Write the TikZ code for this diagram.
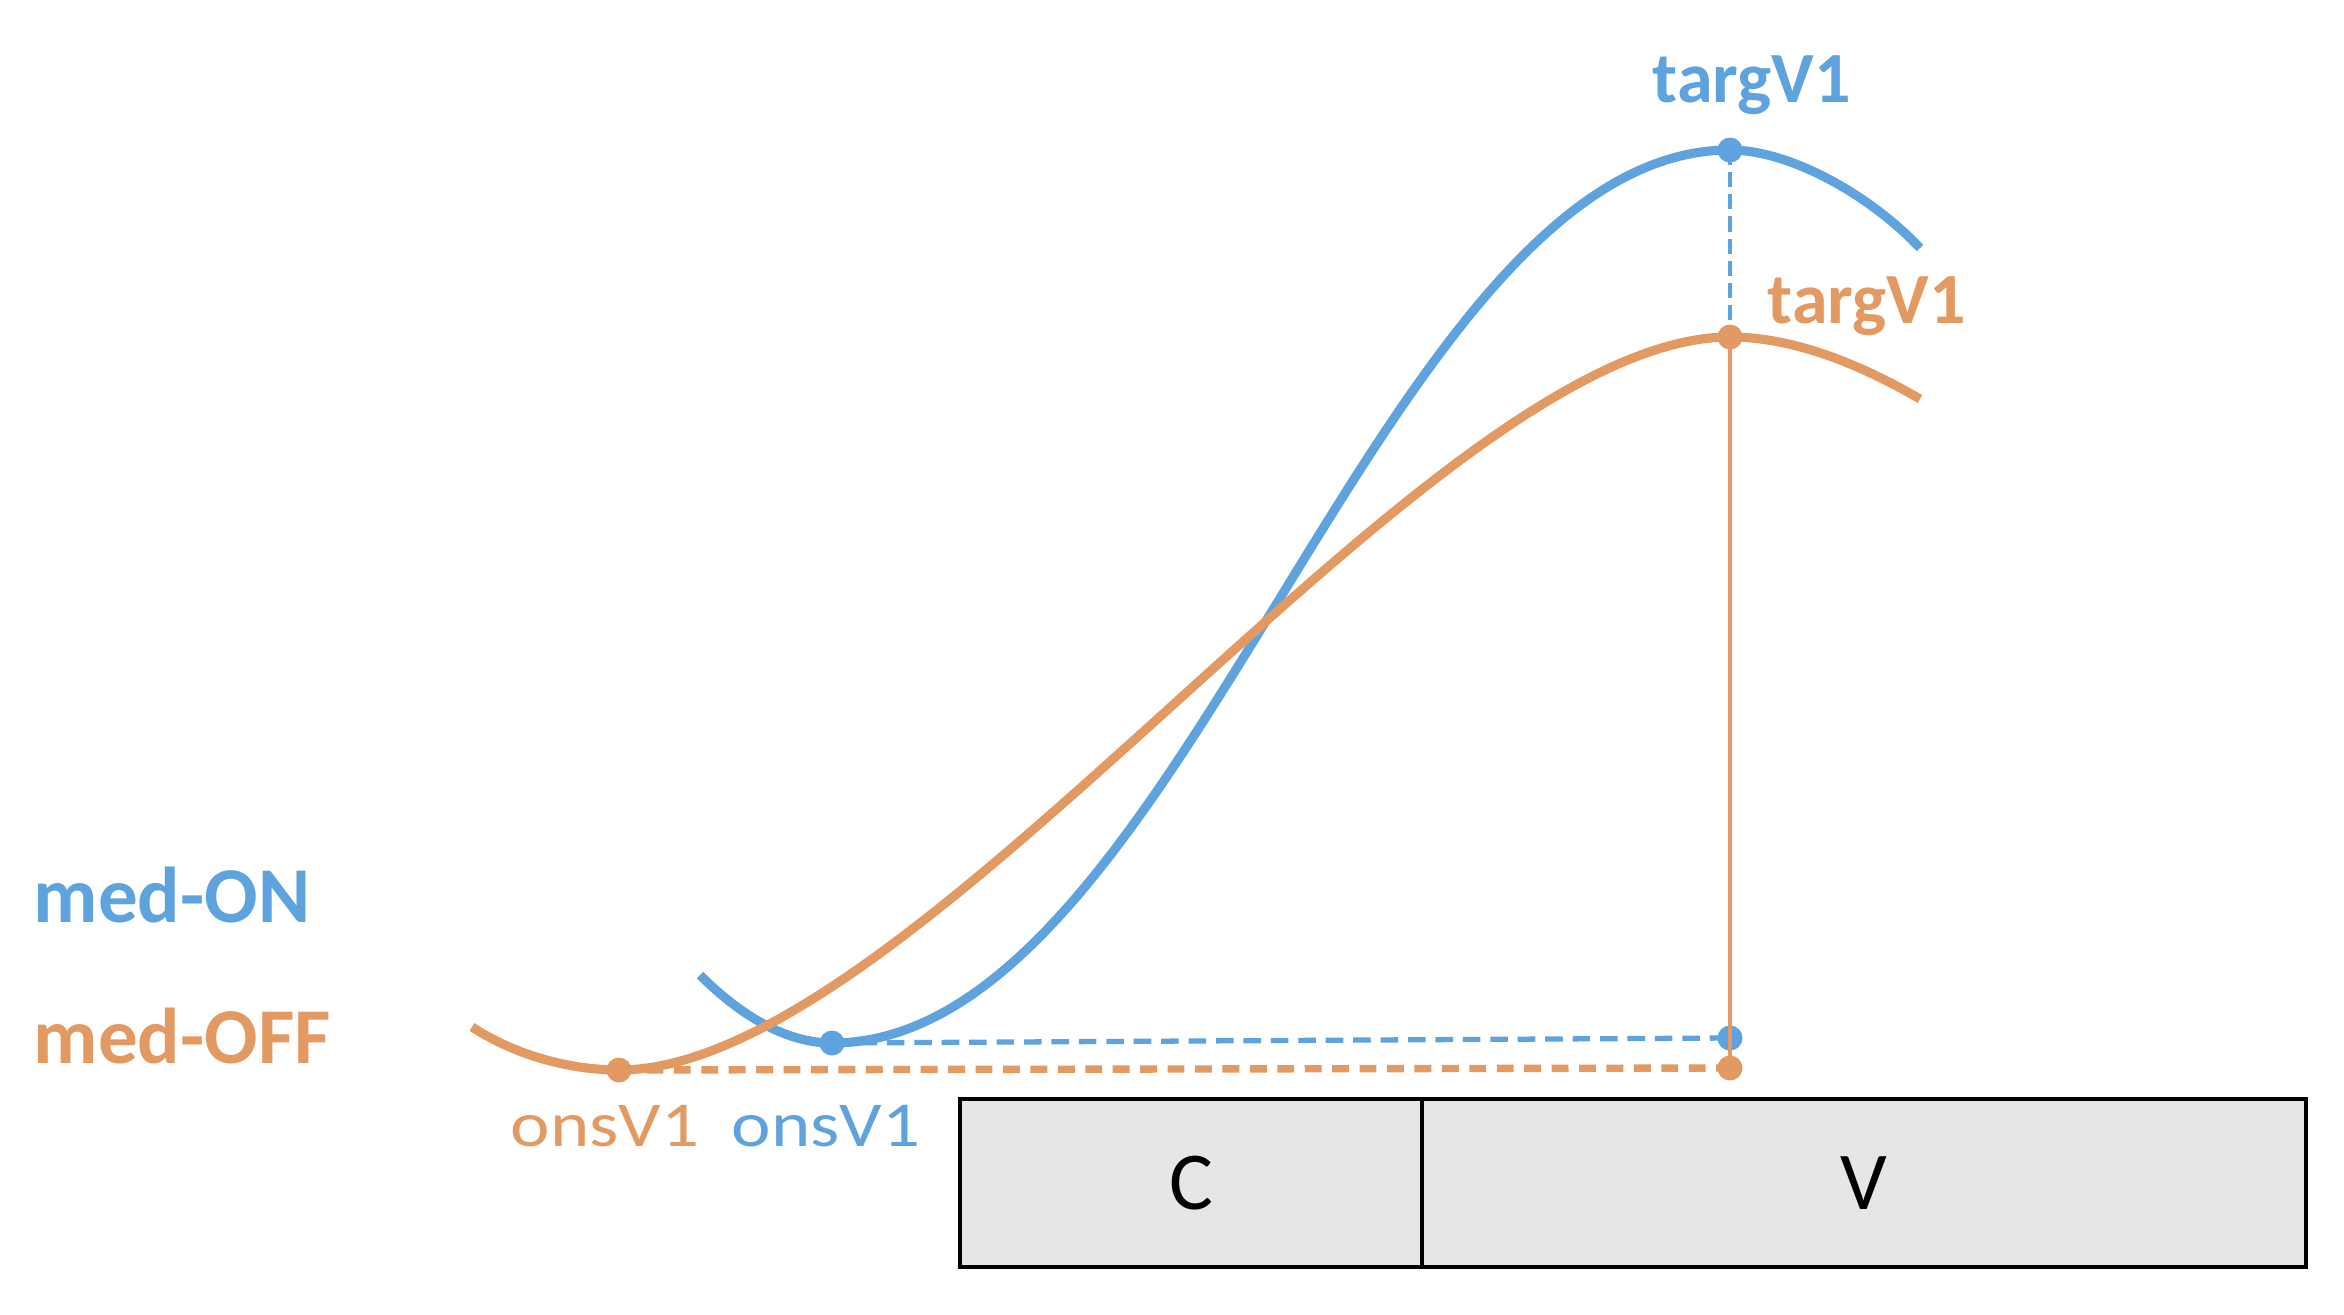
\documentclass[tikz,border=0pt]{standalone}
\usepackage{graphicx}
\usepackage{fontspec}
\setmainfont{Carlito}
\definecolor{bl}{RGB}{94,163,221}
\definecolor{orn}{RGB}{226,154,98}
\definecolor{segfill}{RGB}{230,230,230}
\begin{document}
\begin{tikzpicture}[x=0.01cm,y=-0.01cm,
  curve/.style={line width=2.6pt},
  bdot/.style={circle, fill=bl, inner sep=0pt, minimum size=0.25cm},
  odot/.style={circle, fill=orn, inner sep=0pt, minimum size=0.25cm},
  lbl/.style={inner sep=0pt, anchor=base west},
  seg/.style={rectangle, draw=black, line width=1.2pt, fill=segfill, minimum height=1.68cm, inner sep=0pt, font=\fontsize{23.4pt}{28pt}\selectfont},
  bdash/.style={draw=bl, line width=1.5pt, dash pattern=on 5pt off 2.8pt},
  odash/.style={draw=orn, line width=2.1pt, dash pattern=on 4.8pt off 3pt}]
\useasboundingbox (0,0) rectangle (2344,1314);

% segment boxes
\node[seg, minimum width=4.62cm] (C) at (1191,1183) {C};
\node[seg, minimum width=8.84cm] (V) at (1864,1183) {V};

% points
\coordinate (bon) at (832,1043);
\coordinate (btg) at (1730,150);
\coordinate (bbase) at (1730,1038);
\coordinate (oon) at (619,1070);
\coordinate (otg) at (1730,337);
\coordinate (obase) at (1730,1068);
\coordinate (bstart) at (700,975);
\coordinate (bend) at (1920,248);
\coordinate (ostart) at (472,1027);
\coordinate (oend) at (1920,399);

% curves
\draw[curve, draw=bl] (bstart) .. controls (745,1020) and (790,1043) .. (bon)
   .. controls (1182,1043) and (1380,150) .. (btg)
   .. controls (1790,150) and (1870,195) .. (bend);
\draw[curve, draw=orn] (ostart) .. controls (520,1058) and (575,1070) .. (oon)
   .. controls (919,1070) and (1430,337) .. (otg)
   .. controls (1800,337) and (1870,370) .. (oend);

% dashed guides
\draw[bdash] (bon) -- (bbase);
\draw[odash] (oon) -- (obase);
\draw[draw=bl, line width=1.2pt, dash pattern=on 4.3pt off 2pt] (btg) -- (bbase);

% dots
\node[bdot] (dbon) at (bon) {};
\node[bdot] (dbtg) at (btg) {};
\node[bdot] (dbbase) at (bbase) {};
\node[odot] (doon) at (oon) {};
\node[odot] (dotg) at (otg) {};
\node[odot] (dobase) at (obase) {};
\draw[draw=orn, line width=1.2pt] (dotg.center) -- (dobase.center);

% labels
\node[lbl, text=bl, font=\bfseries\fontsize{20.5pt}{24pt}\selectfont] (tb) at (1652,102) {targV1};
\node[lbl, text=orn, font=\bfseries\fontsize{20.5pt}{24pt}\selectfont] (to) at (1767,323) {targV1};
\node[lbl, text=bl, font=\bfseries\fontsize{22.5pt}{26pt}\selectfont] (mon) at (33,922) {med-ON};
\node[lbl, text=orn, font=\bfseries\fontsize{22.5pt}{26pt}\selectfont] (moff) at (33,1063) {med-OFF};
\node[lbl, text=orn, font=\fontsize{18.2pt}{22pt}\selectfont] (oso) at (510,1146) {\scalebox{1.17}[1]{onsV1}};
\node[lbl, text=bl, font=\fontsize{18.2pt}{22pt}\selectfont] (osb) at (731,1146) {\scalebox{1.17}[1]{onsV1}};
\end{tikzpicture}
\end{document}
